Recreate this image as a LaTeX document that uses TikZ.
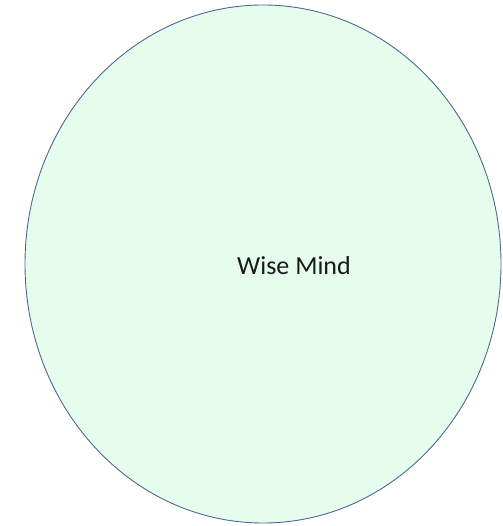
\documentclass[tikz,border=0pt]{standalone}
\usepackage{fontspec}
\setmainfont{Carlito}
\usepackage{xcolor}
\usetikzlibrary{shapes.geometric}
\definecolor{mindfill}{HTML}{E6FDED}
\definecolor{mindline}{HTML}{4E6899}

\begin{document}
\begin{tikzpicture}[x=1pt,y=1pt]
  \useasboundingbox (0,0) rectangle (502,526);
  \node[draw=mindline,fill=mindfill,line width=0.9pt,ellipse,
        minimum width=476,minimum height=518,inner sep=0pt] (mind) at (263,262) {};
  \node[font=\fontsize{26}{30}\selectfont,text=black!90] (label) at (294,260) {Wise Mind};
\end{tikzpicture}
\end{document}
